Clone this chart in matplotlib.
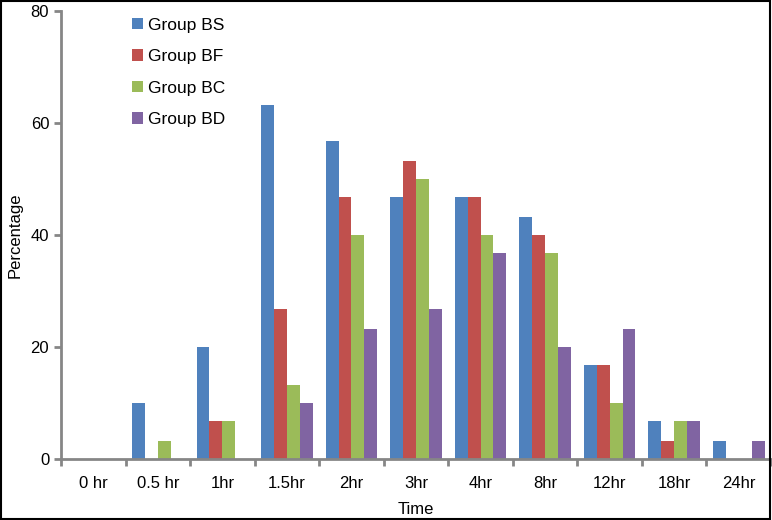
import matplotlib.pyplot as plt
import numpy as np
from matplotlib.patches import Rectangle

plt.rcParams['font.family'] = ['Liberation Sans', 'DejaVu Sans']

times = ['0 hr', '0.5 hr', '1hr', '1.5hr', '2hr', '3hr', '4hr', '8hr', '12hr', '18hr', '24hr']
group_bs = [0, 10, 20, 63.3, 56.7, 46.7, 46.7, 43.3, 16.7, 6.7, 3.3]
group_bf = [0, 0, 6.7, 26.7, 46.7, 53.3, 46.7, 40, 16.7, 3.3, 0]
group_bc = [0, 3.3, 6.7, 13.3, 40, 50, 40, 36.7, 10, 6.7, 0]
group_bd = [0, 0, 0, 10, 23.3, 26.7, 36.7, 20, 23.3, 6.7, 3.3]

series = [('Group BS', group_bs, '#4F81BD'),
          ('Group BF', group_bf, '#C0504D'),
          ('Group BC', group_bc, '#9BBB59'),
          ('Group BD', group_bd, '#8064A2')]

fig = plt.figure(figsize=(7.72, 5.2), dpi=100)
ax = fig.add_axes([61 / 772, 61 / 520, 710 / 772, 448 / 520])

x = np.arange(len(times))
w = 0.2
for i, (name, vals, col) in enumerate(series):
    ax.bar(x + (i - 1.5) * w, vals, w, color=col, label=name)

ax.set_xlim(-0.5, len(times) - 0.5)
ax.set_ylim(0, 80)
ax.set_yticks([0, 20, 40, 60, 80])
ax.set_xticks(x)
ax.set_xticklabels(times)
ax.set_xticks(np.arange(len(times) + 1) - 0.5, minor=True)
ax.tick_params(axis='x', which='major', length=0, pad=12, labelsize=12)
ax.tick_params(axis='x', which='minor', length=5, width=2, color='#868686')
ax.tick_params(axis='y', length=5, width=2, color='#868686', labelsize=12)

for s in ['top', 'right']:
    ax.spines[s].set_visible(False)
for s in ['left', 'bottom']:
    ax.spines[s].set_color('#868686')
    ax.spines[s].set_linewidth(2)

ax.set_xlabel('Time', fontsize=12, labelpad=8)
ax.set_ylabel('Percentage', fontsize=12, labelpad=6)

ax.legend(loc='upper left', bbox_to_anchor=(0.078, 1.02), frameon=False,
          fontsize=12.5, handlelength=0.65, handleheight=0.65, handletextpad=0.25,
          labelspacing=0.95)

fig.patches.append(Rectangle((0.001, 0.001), 0.997, 0.997, transform=fig.transFigure,
                             fill=False, edgecolor='black', linewidth=1.5))

fig.savefig('out.png', dpi=100)
